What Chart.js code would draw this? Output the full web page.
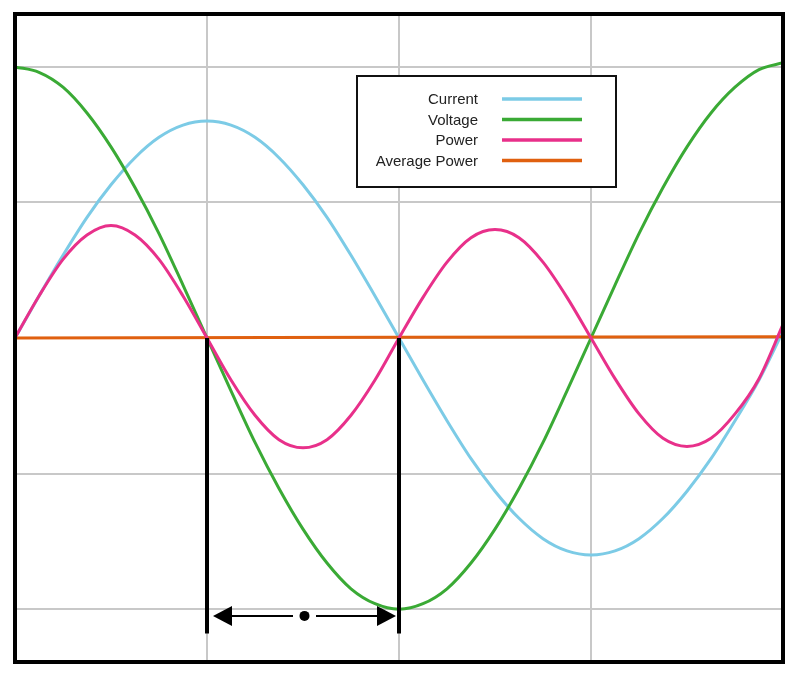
<!DOCTYPE html>
<html>
<head>
<meta charset="utf-8">
<title>Current, Voltage and Power</title>
<script src="https://cdn.jsdelivr.net/npm/chart.js@4.4.1/dist/chart.umd.min.js"></script>
<style>
  html, body { margin: 0; padding: 0; background: #fff; }
  #wrap { width: 800px; height: 678px; }
</style>
</head>
<body>
<div id="wrap"><canvas id="waveChart" width="800" height="678"></canvas></div>
<script>
// sample positions along the x axis (grid lines sit at 1, 2, 3)
const xSteps = [0, 0.125, 0.25, 0.375, 0.5, 0.625, 0.75, 0.875, 1,
  1.125, 1.25, 1.375, 1.5, 1.625, 1.75, 1.875, 2,
  2.125, 2.25, 2.375, 2.5, 2.625, 2.75, 2.875, 3,
  3.125, 3.25, 3.375, 3.5, 3.625, 3.75, 3.875, 4];

// values
const currentValues = [0, 0.31, 0.61, 0.89, 1.13, 1.33, 1.48, 1.57, 1.6,
  1.57, 1.48, 1.33, 1.13, 0.89, 0.61, 0.31, 0,
  -0.31, -0.61, -0.89, -1.13, -1.33, -1.48, -1.57, -1.6,
  -1.57, -1.48, -1.33, -1.13, -0.89, -0.61, -0.31, 0.05];
const voltageValues = [2, 1.96, 1.85, 1.66, 1.41, 1.11, 0.77, 0.39, 0,
  -0.39, -0.77, -1.11, -1.41, -1.66, -1.85, -1.96, -2,
  -1.96, -1.85, -1.66, -1.41, -1.11, -0.77, -0.39, 0,
  0.39, 0.77, 1.11, 1.41, 1.66, 1.85, 1.98, 2.03];
const powerValues = [0, 0.31, 0.58, 0.76, 0.83, 0.76, 0.58, 0.31, 0,
  -0.31, -0.57, -0.75, -0.81, -0.75, -0.57, -0.31, 0,
  0.3, 0.56, 0.74, 0.8, 0.74, 0.56, 0.3, 0,
  -0.3, -0.56, -0.74, -0.8, -0.74, -0.56, -0.3, 0.1];
const avgPowerX = [0, 4];
const avgPowerValues = [0, 0.01];

// the two marker lines and the arrow between them
const markerX = [1, 2];
const markerBottom = -2.18;
const arrowY = -2.05;

const xTicks = [1, 2, 3];
const yTicks = [-2, -1, 0, 1, 2];

const seriesNames = ['Current', 'Voltage', 'Power', 'Average Power'];
const seriesColors = ['#7ccbe6', '#3aaa35', '#e8308a', '#e0600f'];

function toPoints(xs, ys) {
  return xs.map((x, i) => ({ x: x, y: ys[i] }));
}

// frame around the plot
const framePlugin = {
  id: 'frame',
  afterDraw(chart) {
    const { ctx, chartArea } = chart;
    ctx.save();
    ctx.strokeStyle = '#000';
    ctx.lineWidth = 4;
    ctx.strokeRect(chartArea.left, chartArea.top, chartArea.right - chartArea.left, chartArea.bottom - chartArea.top);
    ctx.restore();
  }
};

// double arrow with a dot in the middle
const arrowPlugin = {
  id: 'arrow',
  afterDatasetsDraw(chart) {
    const { ctx } = chart;
    const xs = chart.scales.x;
    const ys = chart.scales.y;
    const x1 = xs.getPixelForValue(markerX[0]) + 6;
    const x2 = xs.getPixelForValue(markerX[1]) - 3;
    const y = ys.getPixelForValue(arrowY);
    const mid = (x1 + x2) / 2;
    const headLen = 19, headHalf = 10, gap = 11.5;
    ctx.save();
    ctx.fillStyle = '#000';
    ctx.strokeStyle = '#000';
    ctx.lineWidth = 2;
    ctx.beginPath();
    ctx.moveTo(x1 + headLen, y);
    ctx.lineTo(mid - gap, y);
    ctx.moveTo(mid + gap, y);
    ctx.lineTo(x2 - headLen, y);
    ctx.stroke();
    ctx.beginPath();
    ctx.moveTo(x1, y);
    ctx.lineTo(x1 + headLen, y - headHalf);
    ctx.lineTo(x1 + headLen, y + headHalf);
    ctx.closePath();
    ctx.fill();
    ctx.beginPath();
    ctx.moveTo(x2, y);
    ctx.lineTo(x2 - headLen, y - headHalf);
    ctx.lineTo(x2 - headLen, y + headHalf);
    ctx.closePath();
    ctx.fill();
    ctx.beginPath();
    ctx.arc(mid, y, 5, 0, Math.PI * 2);
    ctx.fill();
    ctx.restore();
  }
};

// boxed legend, text on the left and line sample on the right
const legendPlugin = {
  id: 'boxLegend',
  afterDraw(chart) {
    const ctx = chart.ctx;
    const boxX = 357, boxY = 76, boxW = 259, boxH = 111;
    ctx.save();
    ctx.fillStyle = '#fff';
    ctx.fillRect(boxX, boxY, boxW, boxH);
    ctx.strokeStyle = '#111';
    ctx.lineWidth = 2;
    ctx.strokeRect(boxX, boxY, boxW, boxH);
    ctx.font = '15px "Liberation Sans", Arial, sans-serif';
    ctx.textAlign = 'right';
    ctx.textBaseline = 'middle';
    seriesNames.forEach((name, i) => {
      const rowY = 99 + i * 20.5;
      ctx.fillStyle = '#222';
      ctx.fillText(name, 478, rowY + 1);
      ctx.strokeStyle = seriesColors[i];
      ctx.lineWidth = 3.5;
      ctx.beginPath();
      ctx.moveTo(502, rowY);
      ctx.lineTo(582, rowY);
      ctx.stroke();
    });
    ctx.restore();
  }
};

function lineSet(label, xs, ys, color, order) {
  return {
    label: label,
    data: toPoints(xs, ys),
    borderColor: color,
    borderWidth: 3,
    pointRadius: 0,
    fill: false,
    cubicInterpolationMode: 'monotone',
    order: order
  };
}

document.addEventListener('DOMContentLoaded', function () {
  const ctx = document.getElementById('waveChart').getContext('2d');

  const datasets = [
    lineSet('marker1', [markerX[0], markerX[0]], [0, markerBottom], '#000', 0),
    lineSet('marker2', [markerX[1], markerX[1]], [0, markerBottom], '#000', 0),
    lineSet(seriesNames[2], xSteps, powerValues, seriesColors[2], 1),
    lineSet(seriesNames[3], avgPowerX, avgPowerValues, seriesColors[3], 2),
    lineSet(seriesNames[1], xSteps, voltageValues, seriesColors[1], 3),
    lineSet(seriesNames[0], xSteps, currentValues, seriesColors[0], 4)
  ];
  datasets[0].borderWidth = 4;
  datasets[1].borderWidth = 4;

  new Chart(ctx, {
    type: 'line',
    data: { datasets: datasets },
    options: {
      responsive: false,
      animation: false,
      layout: { padding: { left: 15, right: 17, top: 14, bottom: 16 } },
      plugins: {
        legend: { display: false },
        tooltip: { enabled: false }
      },
      scales: {
        x: {
          type: 'linear',
          min: 0,
          max: 4,
          ticks: { display: false },
          border: { display: false },
          grid: { color: '#c8c8c8', lineWidth: 2, drawTicks: false },
          afterBuildTicks: function (scale) {
            scale.ticks = xTicks.map(v => ({ value: v }));
          }
        },
        y: {
          type: 'linear',
          min: -2.39,
          max: 2.39,
          ticks: { display: false },
          border: { display: false },
          grid: { color: '#c8c8c8', lineWidth: 2, drawTicks: false },
          afterBuildTicks: function (scale) {
            scale.ticks = yTicks.map(v => ({ value: v }));
          }
        }
      }
    },
    plugins: [framePlugin, arrowPlugin, legendPlugin]
  });
});
</script>
</body>
</html>
